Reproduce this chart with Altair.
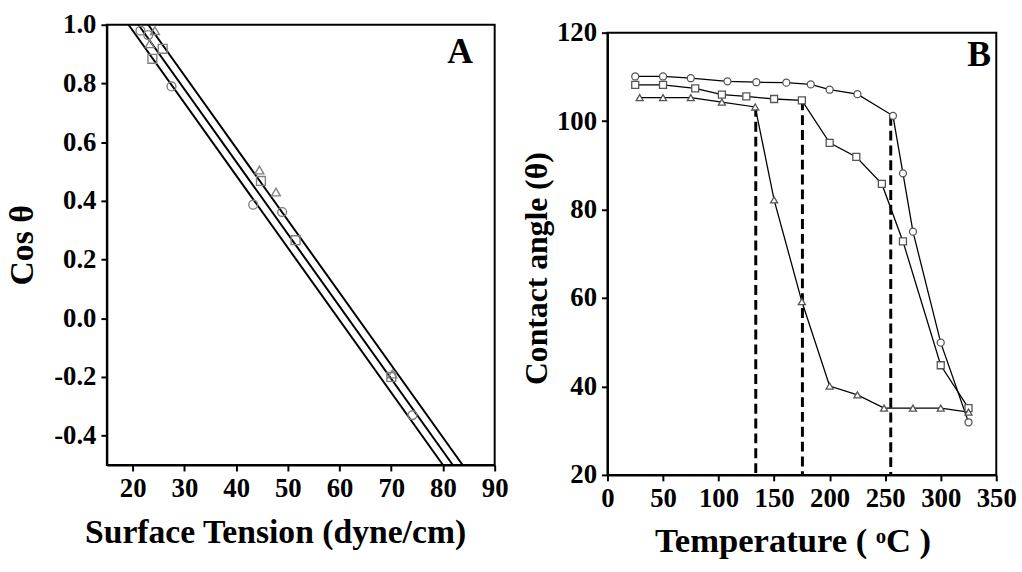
import altair as alt
import pandas as pd

FONT = "Liberation Serif"

# ---------------- Panel A data ----------------
a_circle_t = [21.5, 23.0, 27.5, 43.3, 48.9, 74.1]
a_circle_cos = [0.98, 0.965, 0.79, 0.387, 0.362, -0.33]
a_square_t = [23.8, 25.8, 44.8, 51.5, 70.0]
a_square_cos = [0.884, 0.918, 0.468, 0.266, -0.20]
a_tri_t = [24.3, 23.3, 44.5, 47.7, 70.2]
a_tri_cos = [0.98, 0.935, 0.505, 0.43, -0.19]

# fitted lines: tension where cos = 1.0 and where cos = -0.5
fit_t_top = [19.2, 21.1, 23.0]
fit_t_bottom = [80.0, 81.9, 83.8]
fit_cos_top = 1.0
fit_cos_bottom = -0.5

a_x_domain = [15, 90]
a_y_domain = [-0.5, 1.0]
a_x_ticks = [20, 30, 40, 50, 60, 70, 80, 90]
a_y_ticks = [-0.4, -0.2, 0.0, 0.2, 0.4, 0.6, 0.8, 1.0]

# ---------------- Panel B data ----------------
b_circle_t = [25, 50, 75, 108, 134, 161, 183, 200, 225, 257, 266, 275, 300, 325]
b_circle_ang = [110.1, 110.1, 109.7, 109.0, 108.8, 108.7, 108.3, 107.1, 106.1, 101.2, 88.2, 75.0, 49.9, 31.9]
b_square_t = [25, 50, 79, 103, 125, 150, 175, 200, 224, 247, 266, 300, 325]
b_square_ang = [108.2, 108.2, 107.4, 106.0, 105.6, 105.0, 104.7, 95.1, 91.9, 85.8, 72.8, 44.8, 35.1]
b_tri_t = [29, 50, 75, 103, 133, 150, 175, 200, 225, 249, 275, 300, 325]
b_tri_ang = [105.3, 105.3, 105.3, 104.3, 103.2, 82.2, 59.2, 40.1, 38.1, 35.1, 35.1, 35.1, 34.2]

dash_t = [133.5, 175.5, 255.0]
dash_top = [103.2, 104.7, 101.2]
dash_bottom = 20

b_x_domain = [0, 350]
b_y_domain = [20, 120]
b_x_ticks = [0, 50, 100, 150, 200, 250, 300, 350]
b_y_ticks = [20, 40, 60, 80, 100, 120]

shape_dom = ["circle", "square", "triangle"]
shape_rng = ["circle", "square", "triangle-up"]

# ---------------- build tables ----------------
a_pts = pd.DataFrame(
    [(t, c, "circle") for t, c in zip(a_circle_t, a_circle_cos)]
    + [(t, c, "square") for t, c in zip(a_square_t, a_square_cos)]
    + [(t, c, "triangle") for t, c in zip(a_tri_t, a_tri_cos)],
    columns=["T", "cos", "s"],
)
a_lines = pd.DataFrame(
    [(i, t0, fit_cos_top) for i, t0 in enumerate(fit_t_top)]
    + [(i, t1, fit_cos_bottom) for i, t1 in enumerate(fit_t_bottom)],
    columns=["line", "T", "cos"],
)
a_label = pd.DataFrame({"T": [83.3], "cos": [0.907], "txt": ["A"]})
a_frame = pd.DataFrame({"T": [a_x_domain[0]], "T2": [a_x_domain[1]],
                        "cos": [a_y_domain[0]], "cos2": [a_y_domain[1]]})

b_pts = pd.DataFrame(
    [(t, a, "circle") for t, a in zip(b_circle_t, b_circle_ang)]
    + [(t, a, "square") for t, a in zip(b_square_t, b_square_ang)]
    + [(t, a, "triangle") for t, a in zip(b_tri_t, b_tri_ang)],
    columns=["T", "ang", "s"],
)
b_dash = pd.DataFrame({"T": dash_t, "top": dash_top, "bot": [dash_bottom] * 3})
b_label = pd.DataFrame({"T": [334.5], "ang": [115.0], "txt": ["B"]})
b_frame = pd.DataFrame({"T": [b_x_domain[0]], "T2": [b_x_domain[1]],
                        "ang": [b_y_domain[0]], "ang2": [b_y_domain[1]]})

axis_common = dict(
    grid=False,
    domainColor="black",
    domainWidth=2,
    tickColor="black",
    tickWidth=2,
    tickSize=6,
    labelFont=FONT,
    labelFontWeight="bold",
    labelFontSize=27,
    labelColor="black",
    labelPadding=5,
    titleFont=FONT,
    titleFontWeight="bold",
    titleColor="black",
    labelFlush=False,
    labelOverlap=False,
)

# ---------------- Panel A ----------------
ax_a_x = alt.X("T:Q", scale=alt.Scale(domain=a_x_domain, nice=False, zero=False),
               axis=alt.Axis(values=a_x_ticks, title="Surface Tension (dyne/cm)", titleFontSize=34,
                             titlePadding=14, titleX=170, titleAlign="center", **axis_common))
ax_a_y = alt.Y("cos:Q", scale=alt.Scale(domain=a_y_domain, nice=False, zero=False),
               axis=alt.Axis(values=a_y_ticks, format=".1f",
                             labelExpr="replace(datum.label, '\u2212', '-')",
                             title="Cos \u03b8", titleFontSize=34, titlePadding=14, **axis_common))

a_frame_layer = alt.Chart(a_frame).mark_rect(filled=False, stroke="black", strokeWidth=2).encode(
    x=ax_a_x, x2="T2:Q", y=ax_a_y, y2="cos2:Q")
a_line_layer = alt.Chart(a_lines).mark_line(color="black", strokeWidth=2).encode(
    x="T:Q", y="cos:Q", detail="line:N")
a_pt_layer = alt.Chart(a_pts).mark_point(filled=False, color="#808080", strokeWidth=1.4, size=80, opacity=1).encode(
    x="T:Q", y="cos:Q",
    shape=alt.Shape("s:N", scale=alt.Scale(domain=shape_dom, range=shape_rng), legend=None))
a_txt = alt.Chart(a_label).mark_text(font=FONT, fontWeight="bold", fontSize=36, color="black",
                                     align="center", baseline="middle").encode(
    x="T:Q", y="cos:Q", text="txt:N")

panel_a = alt.layer(a_frame_layer, a_line_layer, a_pt_layer, a_txt).properties(width=392, height=445)

# ---------------- Panel B ----------------
ax_b_x = alt.X("T:Q", scale=alt.Scale(domain=b_x_domain, nice=False, zero=False),
               axis=alt.Axis(values=b_x_ticks, title="Temperature ( \u1d52C )", titleFontSize=35,
                             titlePadding=12, titleX=187, titleAlign="center", **axis_common))
ax_b_y = alt.Y("ang:Q", scale=alt.Scale(domain=b_y_domain, nice=False, zero=False),
               axis=alt.Axis(values=b_y_ticks, title="Contact angle (\u03b8)", titleFontSize=32,
                             titlePadding=3, titleY=238, titleAlign="center", **axis_common))

b_frame_layer = alt.Chart(b_frame).mark_rect(filled=False, stroke="black", strokeWidth=2).encode(
    x=ax_b_x, x2="T2:Q", y=ax_b_y, y2="ang2:Q")
b_line_layer = alt.Chart(b_pts).mark_line(color="black", strokeWidth=1.3).encode(
    x="T:Q", y="ang:Q", detail="s:N", order="T:Q")
b_dash_layer = alt.Chart(b_dash).mark_rule(color="black", strokeWidth=3, strokeDash=[10, 5]).encode(
    x="T:Q", y="top:Q", y2="bot:Q")
b_pt_layer = alt.Chart(b_pts).mark_point(filled=True, fill="white", stroke="#555555", strokeWidth=1.3,
                                         size=50, opacity=1).encode(
    x="T:Q", y="ang:Q",
    shape=alt.Shape("s:N", scale=alt.Scale(domain=shape_dom, range=shape_rng), legend=None))
b_txt = alt.Chart(b_label).mark_text(font=FONT, fontWeight="bold", fontSize=36, color="black",
                                     align="center", baseline="middle").encode(
    x="T:Q", y="ang:Q", text="txt:N")

panel_b = alt.layer(b_frame_layer, b_line_layer, b_dash_layer, b_pt_layer, b_txt).properties(
    width=393, height=447)


# invisible spacers; panel B sits a little lower than panel A, as in the original figure
def spacer(w):
    return alt.Chart(pd.DataFrame({"v": [0]})).mark_point(opacity=0, size=1).encode(
        x=alt.X("v:Q", axis=None), y=alt.Y("v:Q", axis=None)).properties(width=w, height=1)


left = alt.vconcat(spacer(392), panel_a, spacing=0)
right = alt.vconcat(spacer(393), panel_b, spacing=8)

chart = alt.hconcat(
    left, right, spacing=12,
    background="white",
    padding={"left": 5, "top": 4, "right": 5, "bottom": 0},
).configure_view(stroke="transparent")

chart.save("out.html", embed_options={"renderer": "svg", "actions": False})
